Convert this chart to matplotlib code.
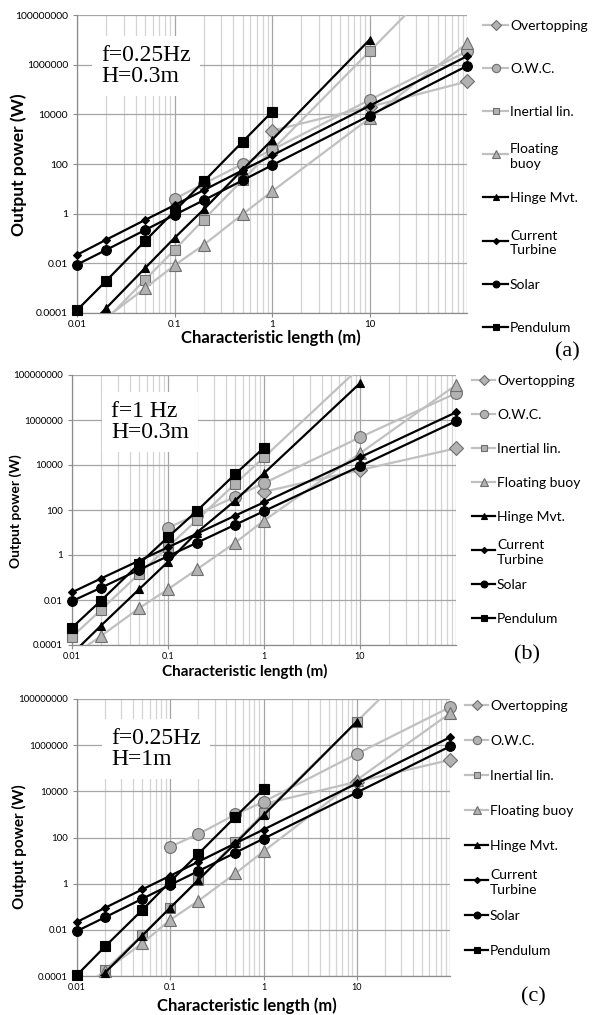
import numpy as np
import matplotlib.pyplot as plt
from matplotlib.lines import Line2D
from matplotlib.ticker import FixedLocator, NullFormatter

nan = np.nan

# characteristic length (m) - same x values for every series
length = [0.01, 0.02, 0.05, 0.1, 0.2, 0.5, 1, 10, 100]

series_names = ['Overtopping', 'O.W.C.', 'Inertial lin.', 'Floating buoy',
                'Hinge Mvt.', 'Current Turbine', 'Solar', 'Pendulum']

# (a) f=0.25Hz, H=0.3m  -- output power (W)
a_overtopping = [nan, nan, nan, nan, nan, nan, 2200, 20000, 210000]
a_owc = [nan, nan, nan, 3.9, 16, 100, 370, 38000, 3.4e6]
a_inertial = [3.5e-6, 5.5e-5, 2.2e-3, 0.035, 0.58, 23, 360, 3.4e6, 3.4e10]
a_floating = [8.1e-6, 6.6e-5, 1.0e-3, 8.3e-3, 0.056, 0.95, 7.9, 6900, 7.2e6]
a_hinge = [1.0e-5, 1.6e-4, 6.5e-3, 0.105, 1.5, 59, 930, 1.0e7, nan]
a_turbine = [0.022, 0.09, 0.56, 2.2, 8.9, 56, 220, 22000, 2.2e6]
a_solar = [0.0089, 0.035, 0.22, 0.89, 3.5, 22, 89, 8900, 8.9e5]
a_pendulum = [1.3e-4, 2.0e-3, 0.08, 1.26, 20, 790, 12600, nan, nan]

# (b) f=1 Hz, H=0.3m
b_overtopping = [nan, nan, nan, nan, nan, nan, 650, 6000, 55000]
b_owc = [nan, nan, nan, 16, 63, 390, 1550, 1.7e5, 1.55e7]
b_inertial = [2.3e-4, 3.6e-3, 0.145, 2.3, 36, 1450, 22000, 2.2e8, 2.2e12]
b_floating = [3.2e-5, 2.5e-4, 4.3e-3, 0.03, 0.23, 3.5, 34, 33000, 3.6e7]
b_hinge = [4.0e-5, 7.2e-4, 0.03, 0.5, 10, 260, 4300, 4.3e7, nan]
b_turbine = [0.022, 0.09, 0.56, 2.2, 8.9, 56, 220, 22000, 2.2e6]
b_solar = [0.0089, 0.035, 0.22, 0.89, 3.5, 22, 89, 8900, 8.9e5]
b_pendulum = [5.9e-4, 9.3e-3, 0.4, 6.2, 91, 3900, 59000, nan, nan]

# (c) f=0.25Hz, H=1m
c_overtopping = [nan, nan, nan, nan, nan, nan, 2800, 26000, 230000]
c_owc = [nan, nan, nan, 40, 140, 1000, 3500, 4.2e5, 4.4e7]
c_inertial = [5.0e-6, 1.8e-4, 6.0e-3, 0.091, 1.45, 66, 1100, 1.05e7, 1.0e11]
c_floating = [2.0e-5, 1.7e-4, 2.6e-3, 0.027, 0.18, 2.8, 25, 31000, 2.4e7]
c_hinge = [1.0e-5, 1.4e-4, 5.6e-3, 0.091, 1.45, 56, 930, 1.05e7, nan]
c_turbine = [0.022, 0.09, 0.56, 2.2, 8.9, 56, 220, 22000, 2.2e6]
c_solar = [0.0089, 0.035, 0.22, 0.89, 3.5, 22, 89, 8900, 8.9e5]
c_pendulum = [1.1e-4, 1.9e-3, 0.072, 1.23, 19.5, 790, 12300, nan, nan]

y_ticks = [1e-4, 1e-2, 1, 1e2, 1e4, 1e6, 1e8]
y_tick_labels = ['0.0001', '0.01', '1', '100', '10000', '1000000', '100000000']
x_ticks = [0.01, 0.1, 1, 10]
x_tick_labels = ['0.01', '0.1', '1', '10']

LIGHT = '#c0c0c0'
FILL = '#b2b2b2'
EDGE = '#6e6e6e'

styles = {
    'Overtopping': dict(color=LIGHT, marker='D', ms=7.5, mfc=FILL, mec=EDGE),
    'O.W.C.': dict(color=LIGHT, marker='o', ms=8.5, mfc=FILL, mec=EDGE),
    'Inertial lin.': dict(color=LIGHT, marker='s', ms=7, mfc=FILL, mec=EDGE),
    'Floating buoy': dict(color=LIGHT, marker='^', ms=8, mfc=FILL, mec=EDGE),
    'Hinge Mvt.': dict(color='black', marker='^', ms=6, mfc='black', mec='black'),
    'Current Turbine': dict(color='black', marker='D', ms=4.5, mfc='black', mec='black'),
    'Solar': dict(color='black', marker='o', ms=7, mfc='black', mec='black'),
    'Pendulum': dict(color='black', marker='s', ms=6.5, mfc='black', mec='black'),
}

W, H = 596, 1015


def fx(px):
    return px / W


def fy(py):
    return 1 - py / H


def draw_panel(fig, p, data):
    left, right, top, bottom = p['box']
    ax = fig.add_axes([fx(left), fy(bottom), fx(right - left), (bottom - top) / H])
    ax.set_xscale('log')
    ax.set_yscale('log')
    ax.set_xlim(0.01, 100)
    ax.set_ylim(1e-4, 1e8)

    ax.xaxis.set_minor_locator(FixedLocator(
        [m * 10.0 ** e for e in range(-2, 2) for m in range(2, 10)]))
    ax.set_xticks(x_ticks, x_tick_labels)
    ax.xaxis.set_minor_formatter(NullFormatter())
    ax.set_yticks(y_ticks, y_tick_labels)
    ax.yaxis.set_minor_locator(FixedLocator([]))

    ax.grid(True, which='major', axis='both', color='#a6a6a6', lw=0.9)
    ax.grid(True, which='minor', axis='x', color='#d4d4d4', lw=0.9)
    ax.axvline(100, color='#a6a6a6', lw=0.9)
    ax.set_axisbelow(True)
    for s in ['top', 'right']:
        ax.spines[s].set_visible(False)
    for s in ['left', 'bottom']:
        ax.spines[s].set_color('#8c8c8c')
        ax.spines[s].set_linewidth(0.9)
    ax.tick_params(axis='y', which='major', length=3, color='#8c8c8c',
                   labelsize=p['tick_fs'], pad=3.5)
    ax.tick_params(axis='x', which='major', length=3, color='#8c8c8c',
                   labelsize=p['tick_fs'] - 0.5, pad=2)
    ax.tick_params(which='minor', length=0)
    for lab in ax.get_xticklabels() + ax.get_yticklabels():
        lab.set_fontfamily('Lato')

    for i, name in enumerate(series_names):
        st = styles[name]
        y = np.array(data[i], dtype=float)
        ax.plot(length, y, color=st['color'], lw=1.6, zorder=3 + i)
        inside = np.where((y >= 1e-4) & (y <= 1e8), y, nan)
        ax.plot(length, inside, ls='none', marker=st['marker'], ms=st['ms'],
                mfc=st['mfc'], mec=st['mec'], mew=0.8, clip_on=False, zorder=3 + i)

    nx, ny = p['note_xy']
    ax.text(fx(nx), fy(ny), p['note'], transform=fig.transFigure,
            fontsize=17, family='Liberation Serif', ha='left', va='center',
            linespacing=1.0, zorder=20,
            bbox=dict(boxstyle='square,pad=0.4', fc='white', ec='none'))

    yx, yy = p['ylabel_xy']
    fig.text(fx(yx), fy(yy), 'Output power (W)', rotation=90, fontsize=p['ylabel_fs'],
             fontweight='bold', family='Lato', ha='center', va='center')
    lx, ly = p['xlabel_xy']
    fig.text(fx(lx), fy(ly), 'Characteristic length (m)', fontsize=p['xlabel_fs'],
             fontweight='bold', family='Lato', ha='center', va='center')
    tx, ty = p['tag_xy']
    fig.text(fx(tx), fy(ty), p['tag'], fontsize=16,
             family='Liberation Serif', ha='center', va='center')

    # legend: entries placed like the Excel legend, handle level with first line
    x0, x1, y0, step = p['legend']
    for i, name in enumerate(series_names):
        st = styles[name]
        ly = fy(y0 + i * step)
        fig.add_artist(Line2D([fx(x0), fx(x1)], [ly, ly], color=st['color'], lw=1.6,
                              transform=fig.transFigure))
        fig.add_artist(Line2D([fx((x0 + x1) / 2)], [ly], ls='none', marker=st['marker'],
                              ms=st['ms'] * 0.7, mfc=st['mfc'], mec=st['mec'], mew=0.8,
                              transform=fig.transFigure))
        fig.text(fx(x1 + 2), ly, p['labels'][i], fontsize=10, family='Lato',
                 ha='left', va='center_baseline', linespacing=1.25)
    return ax


fig = plt.figure(figsize=(W / 100, H / 100), dpi=100)

labels_a = ['Overtopping', 'O.W.C.', 'Inertial lin.', 'Floating\nbuoy',
            'Hinge Mvt.', 'Current\nTurbine', 'Solar', 'Pendulum']
labels_bc = ['Overtopping', 'O.W.C.', 'Inertial lin.', 'Floating buoy',
             'Hinge Mvt.', 'Current\nTurbine', 'Solar', 'Pendulum']

panel_a = dict(box=(77, 467, 15, 313), note='f=0.25Hz\nH=0.3m', note_xy=(101, 66),
               tag='(a)', tag_xy=(567, 352), legend=(483, 508, 25, 43.1), labels=labels_a,
               xlabel_xy=(271, 338), xlabel_fs=12, ylabel_xy=(19, 165), ylabel_fs=12.5,
               tick_fs=7.5)
panel_b = dict(box=(72, 456, 375, 645), note='f=1 Hz\nH=0.3m', note_xy=(111, 422),
               tag='(b)', tag_xy=(527, 655), legend=(472, 495, 380, 34.0), labels=labels_bc,
               xlabel_xy=(245, 671), xlabel_fs=11, ylabel_xy=(16, 511), ylabel_fs=10,
               tick_fs=7)
panel_c = dict(box=(77, 450, 699, 976), note='f=0.25Hz\nH=1m', note_xy=(111, 749),
               tag='(c)', tag_xy=(533, 997), legend=(465, 488, 705, 35.0), labels=labels_bc,
               xlabel_xy=(247, 1006), xlabel_fs=12, ylabel_xy=(19, 847), ylabel_fs=11,
               tick_fs=7)

draw_panel(fig, panel_a,
           [a_overtopping, a_owc, a_inertial, a_floating, a_hinge, a_turbine, a_solar, a_pendulum])
draw_panel(fig, panel_b,
           [b_overtopping, b_owc, b_inertial, b_floating, b_hinge, b_turbine, b_solar, b_pendulum])
draw_panel(fig, panel_c,
           [c_overtopping, c_owc, c_inertial, c_floating, c_hinge, c_turbine, c_solar, c_pendulum])

fig.savefig('out.png', dpi=100)
